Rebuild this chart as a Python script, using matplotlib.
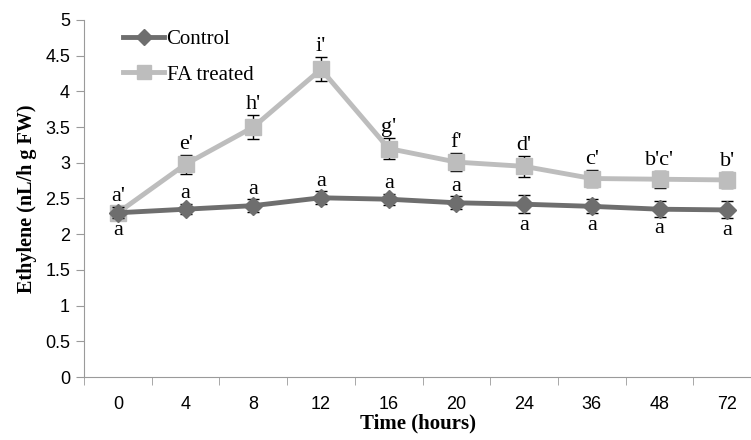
import matplotlib.pyplot as plt
from matplotlib.lines import Line2D
import numpy as np

hours = ['0', '4', '8', '12', '16', '20', '24', '36', '48', '72']
control = [2.30, 2.35, 2.40, 2.51, 2.49, 2.44, 2.42, 2.39, 2.35, 2.34]
control_err = [0.08, 0.07, 0.09, 0.09, 0.08, 0.09, 0.13, 0.10, 0.11, 0.12]
treated = [2.30, 2.98, 3.50, 4.31, 3.20, 3.01, 2.95, 2.78, 2.77, 2.76]
treated_err = [0.08, 0.13, 0.17, 0.17, 0.15, 0.13, 0.15, 0.12, 0.12, 0.11]
control_letters = ['a'] * 10
control_below = [True, False, False, False, False, False, True, True, True, True]
treated_letters = ["a'", "e'", "h'", "i'", "g'", "f'", "d'", "c'", "b'c'", "b'"]

dark = '#6e6e6e'
light = '#bdbdbd'
axis_grey = '#9a9a9a'
serif = 'Liberation Serif'

fig = plt.figure(figsize=(7.51, 4.40), dpi=100)
ax = fig.add_axes([84 / 751, 63 / 440, 1 - 84 / 751, 357 / 440])

x = np.arange(len(hours))

ax.errorbar(x, control, yerr=control_err, color=dark, lw=3.5, marker='D', ms=9,
            ecolor='black', elinewidth=1, capsize=4, capthick=1, zorder=3)
ax.errorbar(x, treated, yerr=treated_err, color=light, lw=3.5, marker='s', ms=12,
            ecolor='black', elinewidth=1, capsize=4, capthick=1, zorder=2)

# significance letters
for i in range(len(hours)):
    ax.text(x[i], treated[i] + treated_err[i] + 0.01, treated_letters[i], ha='center', va='bottom',
            fontsize=16, family=serif)
    if control_below[i]:
        ax.text(x[i], control[i] - control_err[i] - 0.03, control_letters[i], ha='center', va='top',
                fontsize=16, family=serif)
    else:
        ax.text(x[i], control[i] + control_err[i] + 0.01, control_letters[i], ha='center', va='bottom',
                fontsize=16, family=serif)

ax.set_ylim(0, 5)
ax.set_yticks(np.arange(0, 5.01, 0.5))
ax.set_yticklabels(['0', '0.5', '1', '1.5', '2', '2.5', '3', '3.5', '4', '4.5', '5'])
ax.set_xlim(-0.5, 9.35)
ax.set_xticks(x)
ax.set_xticklabels(hours)
ax.set_xticks(np.arange(-0.5, 9.5, 1), minor=True)

ax.tick_params(axis='x', which='major', length=0, pad=14, labelsize=13)
ax.tick_params(axis='x', which='minor', length=6, color=axis_grey)
ax.tick_params(axis='y', length=6, color=axis_grey, labelsize=13, pad=4)
for t in ax.get_xticklabels() + ax.get_yticklabels():
    t.set_family('Liberation Sans')

for s in ['top', 'right']:
    ax.spines[s].set_visible(False)
for s in ['left', 'bottom']:
    ax.spines[s].set_color(axis_grey)

ax.set_xlabel('Time (hours)', family=serif, fontweight='bold', fontsize=15, labelpad=0)
ax.set_ylabel('Ethylene (nL/h g FW)', family=serif, fontweight='bold', fontsize=14.5, labelpad=6)

handles = [Line2D([], [], color=dark, lw=3.5, marker='D', ms=8),
           Line2D([], [], color=light, lw=3.5, marker='s', ms=10)]
ax.legend(handles, ['Control', 'FA treated'], loc='upper left', bbox_to_anchor=(0.03, 1.025),
          frameon=False, prop={'family': serif, 'size': 15}, handlelength=2.0,
          labelspacing=0.75, handletextpad=0.1)

fig.savefig('out.png', dpi=100)
